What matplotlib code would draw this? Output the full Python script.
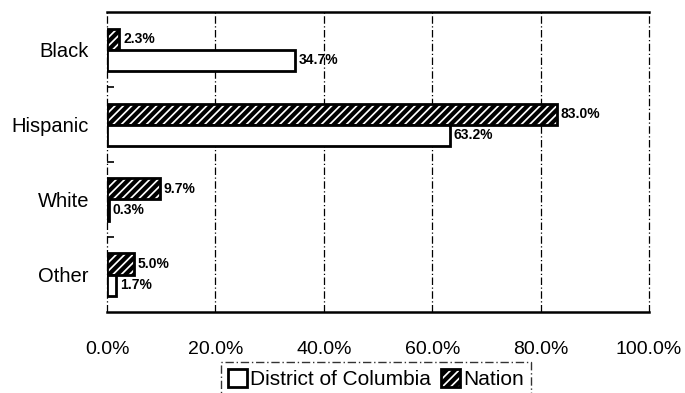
import matplotlib
matplotlib.use("Agg")
import matplotlib.pyplot as plt
import numpy as np
from matplotlib.patches import Patch
from matplotlib.ticker import FixedLocator
from matplotlib import font_manager

plt.rcParams['font.family'] = ['Liberation Sans', 'DejaVu Sans']
plt.rcParams['hatch.linewidth'] = 3.0

names = {f.name for f in font_manager.fontManager.ttflist}
narrow = 'Liberation Sans Narrow' if 'Liberation Sans Narrow' in names else 'Liberation Sans'

categories = ["Black", "Hispanic", "White", "Other"]
dc_values = [34.7, 63.2, 0.3, 1.7]
nation_values = [2.3, 83.0, 9.7, 5.0]
x_ticks = [0, 20, 40, 60, 80, 100]
x_tick_labels = ["0.0%", "20.0%", "40.0%", "60.0%", "80.0%", "100.0%"]

fig = plt.figure(figsize=(6.85, 3.93), dpi=100)
ax = fig.add_axes([107 / 685, 1 - 312 / 393, (649 - 107) / 685, (312 - 12) / 393])

y = np.arange(len(categories))
h = 0.28

ax.barh(y - h / 2, nation_values, height=h, color="white", edgecolor="black",
        hatch="////", linewidth=2.0, zorder=3)
ax.barh(y + h / 2, dc_values, height=h, color="white", edgecolor="black",
        linewidth=2.0, zorder=3)

label_kw = dict(va="center", ha="left", fontsize=10, fontweight="bold",
                family=[narrow, 'DejaVu Sans'], zorder=4)
for yi, v in zip(y, nation_values):
    ax.text(v + 0.7, yi - h / 2, f"{v:.1f}%", **label_kw)
for yi, v in zip(y, dc_values):
    ax.text(v + 0.7, yi + h / 2, f"{v:.1f}%", **label_kw)

ax.set_xlim(0, 100)
ax.set_ylim(len(categories) - 0.5, -0.5)
ax.set_xticks(x_ticks)
ax.set_xticklabels(x_tick_labels, fontsize=14)
ax.set_yticks(y)
ax.set_yticklabels(categories, fontsize=14.5)
ax.yaxis.set_minor_locator(FixedLocator([0.5, 1.5, 2.5]))
ax.tick_params(axis="y", which="major", length=0, pad=13)
ax.tick_params(axis="y", which="minor", length=5, width=1.2, direction="in")
ax.tick_params(axis="x", length=0, pad=21)

ax.grid(axis="x", color="black", linestyle=(0, (6, 2, 1, 2)), linewidth=0.9, zorder=1)
for gl in ax.get_xgridlines():
    gl.set_clip_on(False)
for side in ("left", "right"):
    ax.spines[side].set_visible(False)
ax.spines["top"].set_linewidth(1.8)
ax.spines["bottom"].set_linewidth(1.8)

handles = [Patch(facecolor="white", edgecolor="black", linewidth=2.0, label="District of Columbia"),
           Patch(facecolor="white", edgecolor="black", hatch="////", linewidth=2.0, label="Nation")]
leg = fig.legend(handles=handles, loc="upper center", bbox_to_anchor=(376 / 685, 1 - 362 / 393),
                 ncol=2, frameon=True, fontsize=15, handlelength=0.9, handleheight=0.9,
                 handletextpad=0.15, columnspacing=0.5, borderpad=0.35, borderaxespad=0,
                 fancybox=False)
leg.get_frame().set_edgecolor("black")
leg.get_frame().set_linewidth(1.0)
leg.get_frame().set_linestyle((0, (6, 2, 1, 2)))

fig.savefig("out.png", dpi=100)
